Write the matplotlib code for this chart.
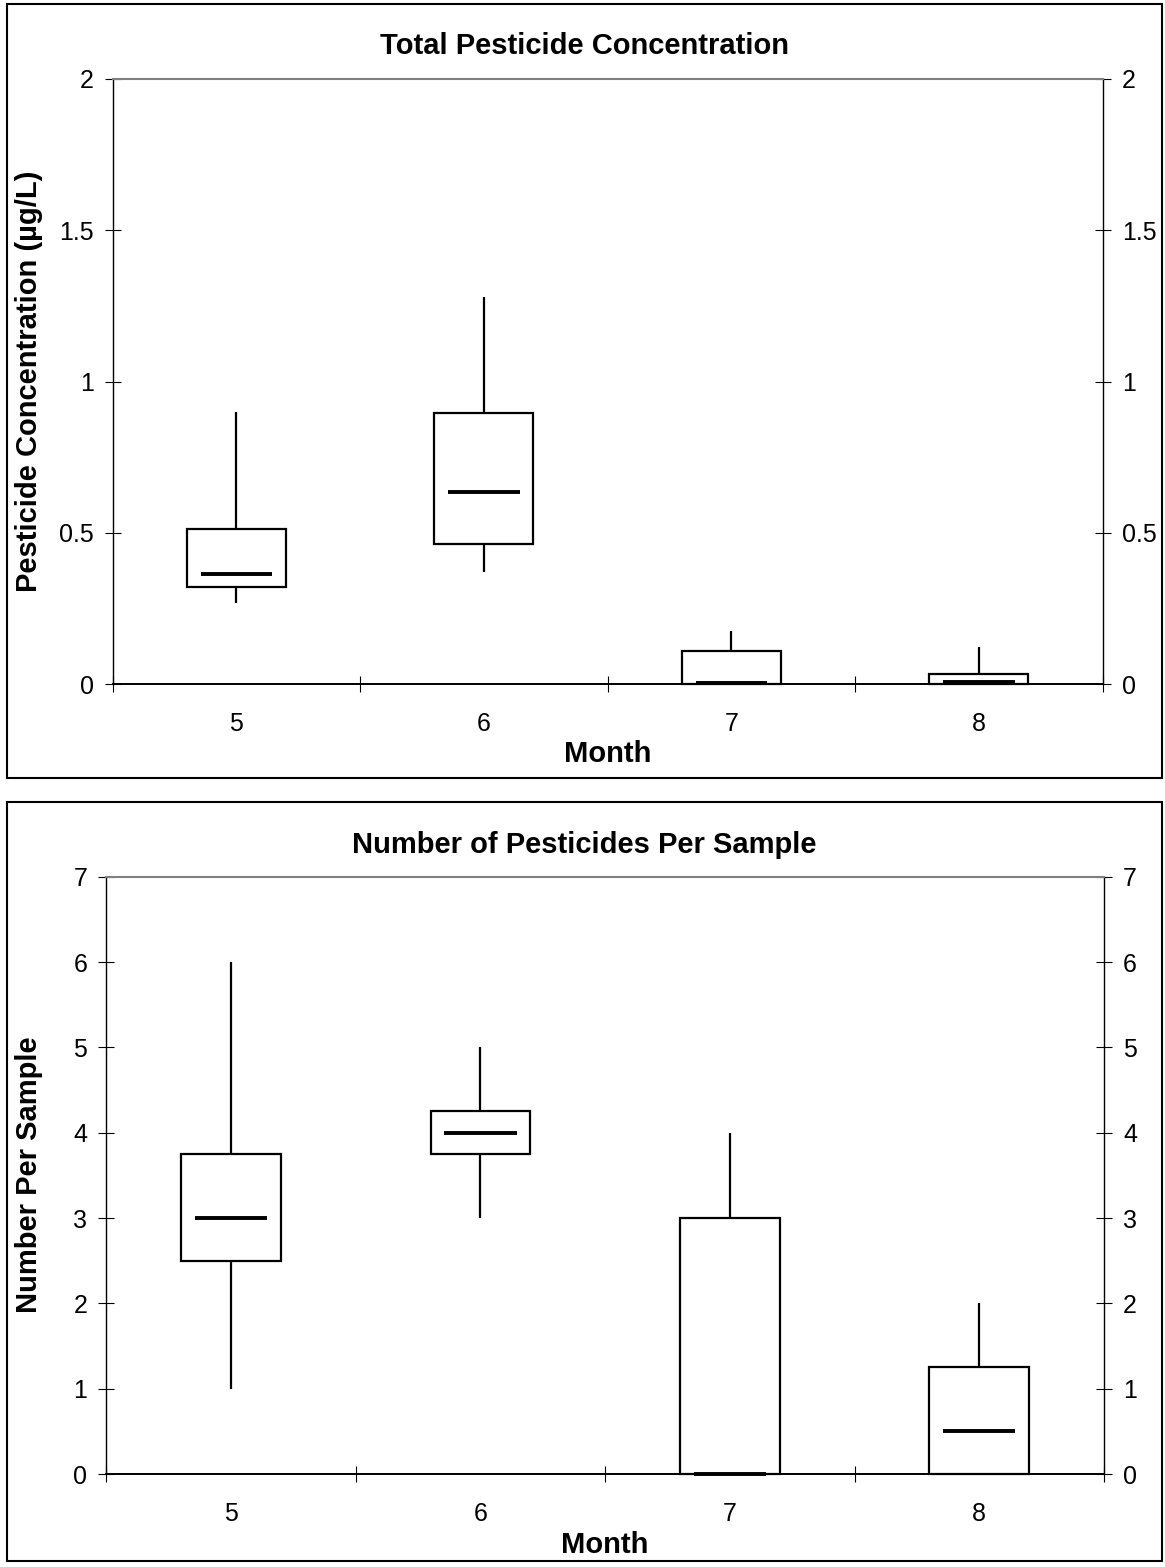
import matplotlib.pyplot as plt
from matplotlib.patches import Rectangle
from matplotlib.ticker import FuncFormatter

plt.rcParams['font.family'] = ['Liberation Sans', 'DejaVu Sans']

months = ['5', '6', '7', '8']

# total pesticide concentration (ug/L) per month
conc_low = [0.27, 0.37, 0.0, 0.0]
conc_q1 = [0.32, 0.465, 0.0, 0.0]
conc_med = [0.363, 0.634, 0.004, 0.008]
conc_q3 = [0.513, 0.898, 0.11, 0.035]
conc_high = [0.90, 1.28, 0.175, 0.122]

# number of pesticides detected per sample
count_low = [1, 3, 0, 0]
count_q1 = [2.5, 3.75, 0, 0]
count_med = [3, 4, 0, 0.5]
count_q3 = [3.75, 4.25, 3, 1.25]
count_high = [6, 5, 4, 2]

W, H = 1165, 1567
fig = plt.figure(figsize=(W / 100, H / 100), dpi=100)


def px_box(x0, y0, x1, y1):
    # pixel rect (top-left origin) -> figure fraction [left, bottom, width, height]
    return [x0 / W, 1 - y1 / H, (x1 - x0) / W, (y1 - y0) / H]


def draw_boxes(ax, low, q1, med, q3, high):
    for i in range(len(months)):
        x = i + 1
        ax.add_patch(Rectangle((x - 0.2, q1[i]), 0.4, q3[i] - q1[i], fill=False,
                               ec='black', lw=1.6, zorder=3, clip_on=False))
        if high[i] > q3[i]:
            ax.vlines(x, q3[i], high[i], color='black', lw=1.6, zorder=3)
        if low[i] < q1[i]:
            ax.vlines(x, low[i], q1[i], color='black', lw=1.6, zorder=3)
        ax.hlines(med[i], x - 0.145, x + 0.145, color='black', lw=2.8, zorder=4,
                  clip_on=False)


def setup_axes(ax, top, step):
    ax.set_xlim(0.5, 4.5)
    ax.set_ylim(0, top)
    ax.set_xticks([0.5, 1.5, 2.5, 3.5, 4.5])
    ax.set_xticklabels([])
    ax.set_xticks([1, 2, 3, 4], minor=True)
    ax.set_xticklabels(months, minor=True)
    ax.tick_params(axis='x', which='major', direction='inout', length=11.5, width=0.8)
    ax.tick_params(axis='x', which='minor', length=0, pad=20, labelsize=18)
    ax.set_yticks([k * step for k in range(int(round(top / step)) + 1)])
    ax.yaxis.set_major_formatter(FuncFormatter(lambda v, p: '{:g}'.format(v)))
    ax.tick_params(axis='y', direction='inout', length=11.5, width=0.8, left=True,
                   right=True, labelleft=True, labelright=True, labelsize=18, pad=8)
    ax.spines['top'].set_color('#808080')
    ax.spines['top'].set_linewidth(1.5)
    ax.spines['bottom'].set_linewidth(1.4)
    ax.spines['left'].set_linewidth(1.0)
    ax.spines['right'].set_linewidth(1.0)


# top panel
ax1 = fig.add_axes(px_box(112.7, 79, 1102.7, 684.3))
setup_axes(ax1, 2, 0.5)
draw_boxes(ax1, conc_low, conc_q1, conc_med, conc_q3, conc_high)

# bottom panel
ax2 = fig.add_axes(px_box(106.3, 876.7, 1104, 1474))
setup_axes(ax2, 7, 1)
draw_boxes(ax2, count_low, count_q1, count_med, count_q3, count_high)

# panel frames
for y0, y1 in [(4.3, 777.5), (802, 1561)]:
    fig.add_artist(Rectangle((6.5 / W, 1 - y1 / H), (1162 - 6.5) / W, (y1 - y0) / H,
                             transform=fig.transFigure, fill=False, ec='black', lw=1.5))

bold = dict(fontsize=21, fontweight='bold')
fig.text(584 / W, 1 - 54 / H, 'Total Pesticide Concentration', ha='center', va='baseline', **bold)
fig.text(608 / W, 1 - 761.5 / H, 'Month', ha='center', va='baseline', **bold)
fig.text(29 / W, 1 - 381.5 / H, 'Pesticide Concentration (µg/L)', ha='center', va='center',
         rotation=90, **bold)

fig.text(584 / W, 1 - 852.7 / H, 'Number of Pesticides Per Sample', ha='center', va='baseline', **bold)
fig.text(605 / W, 1 - 1553 / H, 'Month', ha='center', va='baseline', **bold)
fig.text(29 / W, 1 - 1175 / H, 'Number Per Sample', ha='center', va='center',
         rotation=90, **bold)

fig.savefig('out.png', dpi=100)
